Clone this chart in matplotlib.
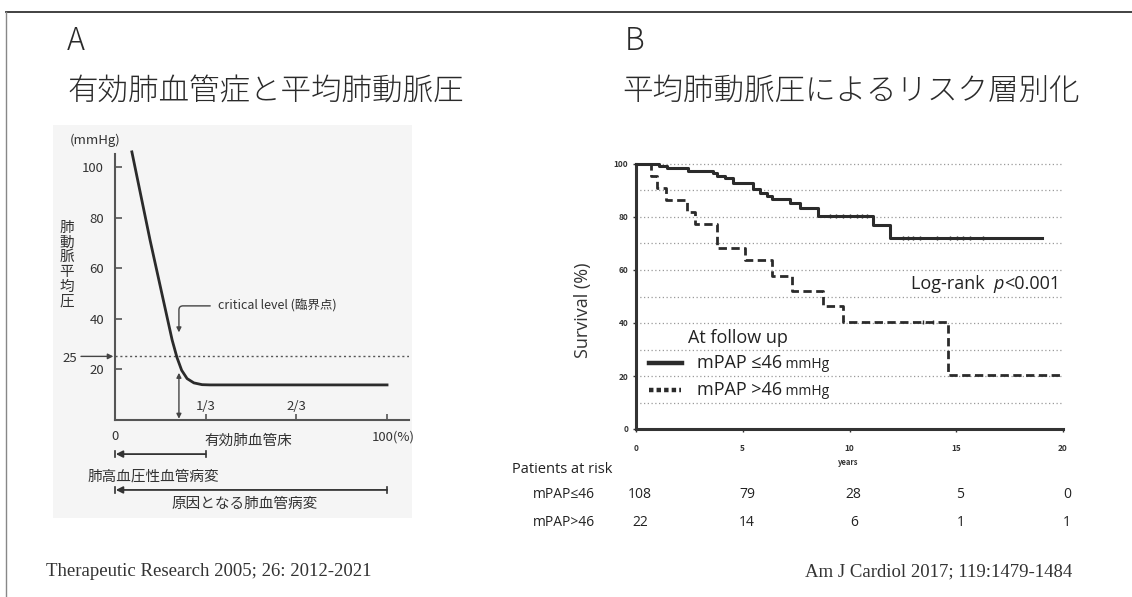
import matplotlib
matplotlib.use('Agg')
import matplotlib.pyplot as plt
from matplotlib.patches import Rectangle
from matplotlib.lines import Line2D

plt.rcParams['font.family'] = ['Noto Sans CJK JP', 'DejaVu Sans']

W, H = 1132, 597
INK = '#2b2b2b'

# ---- panel A: effective pulmonary vascular bed vs mean PAP ----
bed_pct = [6.2, 12.9, 21.0, 22.8, 24.5, 26.5, 29.0, 32.0, 35.0, 100]
mpap_mmhg = [106, 71, 31.5, 24.5, 19.5, 16.2, 14.5, 13.8, 13.7, 13.7]
a_yticks = [20, 40, 60, 80, 100]
a_xticks = [100 / 3, 200 / 3, 100]
a_xlabels = ['1/3', '2/3']
threshold = 25

# ---- panel B: Kaplan-Meier by mPAP ----
t_le46 = [0, 1.09, 1.44, 2.45, 3.62, 3.78, 4.17, 4.56, 5.50, 5.81, 6.12, 6.35,
          7.21, 7.68, 8.54, 11.12, 11.90, 19.0]
s_le46 = [100, 99.4, 98.4, 97.4, 96.5, 95.5, 94.6, 92.7, 90.4, 89.2, 87.9, 86.7,
          85.2, 83.3, 80.4, 76.9, 72.0, 72.0]
t_gt46 = [0, 0.69, 0.97, 1.40, 2.37, 2.76, 3.78, 5.11, 6.35, 7.29, 8.77, 9.71, 14.63, 19.94]
s_gt46 = [100, 95.5, 91.1, 86.4, 81.8, 77.3, 68.2, 63.6, 57.6, 52.0, 46.5, 40.5, 20.3, 20.3]
cens_le46_t = [9.08, 9.39, 9.71, 10.02, 10.33, 10.57, 10.80,
               12.52, 12.76, 12.99, 13.30, 14.08, 14.71, 15.02, 15.33, 15.65, 16.27]
cens_le46_s = [80.4] * 7 + [72.0] * 10
cens_gt46_t = [13.46, 13.93]
cens_gt46_s = [40.5, 40.5]

b_yticks = [0, 20, 40, 60, 80, 100]
b_xticks = [0, 5, 10, 15, 20]
risk_years = [0, 5, 10, 15, 20]
risk_le46 = [108, 79, 28, 5, 0]
risk_gt46 = [22, 14, 6, 1, 1]


def fx(px):
    return px / W


def fy(py):
    return 1 - py / H


fig = plt.figure(figsize=(W / 100, H / 100), dpi=100)

# outer frame (top and left edges only)
fig.add_artist(Line2D([fx(6), 1], [fy(12), fy(12)], color='#333333', lw=1.3))
fig.add_artist(Line2D([fx(6), fx(6)], [fy(12), 0], color='#888888', lw=1.0))

# headings
head = dict(fontsize=22, va='center', color='#2a2a2a', fontweight='light')
fig.text(fx(67), fy(41), 'A', **head)
fig.text(fx(67), fy(91), '有効肺血管症と平均肺動脈圧', **head)
fig.text(fx(625), fy(41), 'B', **head)
fig.text(fx(622), fy(91), '平均肺動脈圧によるリスク層別化', **head)

# footers
fig.text(fx(46), fy(572), 'Therapeutic Research 2005; 26: 2012-2021', fontsize=13.5,
         family='Liberation Serif', va='center', color='#333333')
fig.text(fx(1072), fy(572), 'Am J Cardiol 2017; 119:1479-1484', fontsize=13.5,
         family='Liberation Serif', va='center', ha='right', color='#333333')

# panel A background
fig.add_artist(Rectangle((fx(53), fy(518)), fx(412) - fx(53), fy(125) - fy(518),
                         facecolor='#f5f5f5', edgecolor='none', zorder=0))

# ---------------- panel A ----------------
ax_a = fig.add_axes([fx(115), fy(419.5), fx(408.8) - fx(115), fy(154.4) - fy(419.5)])
ax_a.set_xlim(0, 108)
ax_a.set_ylim(0, 105)
ax_a.patch.set_visible(False)
for side in ['top', 'right']:
    ax_a.spines[side].set_visible(False)
for side in ['left', 'bottom']:
    ax_a.spines[side].set_color('#555555')
    ax_a.spines[side].set_linewidth(1.5)

ax_a.set_yticks(a_yticks)
ax_a.tick_params(axis='y', direction='in', length=5, width=1.2, color='#555555',
                 labelsize=9.5, pad=8, labelcolor='#333333')
ax_a.set_xticks(a_xticks)
ax_a.set_xticklabels([])
ax_a.tick_params(axis='x', direction='in', length=4, width=1.2, color='#555555')

ax_a.plot(bed_pct, mpap_mmhg, color=INK, lw=2, clip_on=False, zorder=3)
ax_a.plot([0, 108], [threshold, threshold], color='#555555', lw=1, ls=(0, (1.5, 2)))

for xv, lab in zip(a_xticks[:2], a_xlabels):
    ax_a.text(xv, 5.3, lab, ha='center', va='center', fontsize=9.5, color='#333333')
ax_a.text(0, -6.9, '0', ha='center', va='center', fontsize=9.5, color='#333333')
ax_a.text(94.5, -6.9, '100(%)', ha='left', va='center', fontsize=9.5, color='#333333')
ax_a.text(33, -8.3, '有効肺血管床', ha='left', va='center', fontsize=10.5, color='#333333')

# threshold label arrow
ax_a.text(-13.8, 24.0, '25', ha='right', va='center', fontsize=9.5, color='#333333')
ax_a.annotate('', xy=(-0.6, threshold), xytext=(-12.5, threshold), annotation_clip=False,
              arrowprops=dict(arrowstyle='-|>', lw=1, color='#444444', mutation_scale=8,
                              shrinkA=0, shrinkB=0))

# critical level
ax_a.text(38.0, 45, 'critical level (臨界点)', ha='left', va='center', fontsize=9,
          color='#333333')
ax_a.annotate('', xy=(23.5, 34.5), xytext=(35.0, 45), annotation_clip=False,
              arrowprops=dict(arrowstyle='-|>', lw=1, color='#444444', mutation_scale=7,
                              shrinkA=0, shrinkB=0,
                              connectionstyle='angle,angleA=180,angleB=90,rad=4'))
# vertical double arrow under the curve
ax_a.annotate('', xy=(23.5, 0.3), xytext=(23.5, 18.5), annotation_clip=False,
              arrowprops=dict(arrowstyle='<|-|>', lw=1, color='#444444', mutation_scale=7,
                              shrinkA=0, shrinkB=0))

# lesion range arrows
for x_end, yv in [(100 / 3, -13.7), (100, -27.9)]:
    ax_a.annotate('', xy=(0.3, yv), xytext=(x_end, yv), annotation_clip=False,
                  arrowprops=dict(arrowstyle='-|>', lw=1.3, color='#333333',
                                  mutation_scale=10, shrinkA=0, shrinkB=0))
    for xv in (0, x_end):
        ax_a.plot([xv, xv], [yv - 1.2, yv + 1.2], color='#333333', lw=1.2, clip_on=False)
ax_a.text(-10, -22.6, '肺高血圧性血管病変', ha='left', va='center', fontsize=10.5, color='#333333')
ax_a.text(47.8, -33.5, '原因となる肺血管病変', ha='center', va='center', fontsize=10.5,
          color='#333333')

fig.text(fx(95), fy(140), '(mmHg)', ha='center', va='center', fontsize=9.5, color='#333333')
for i, ch in enumerate('肺動脈平均圧'):
    fig.text(fx(67), fy(228 + i * 14.7), ch, ha='center', va='center', fontsize=10.5,
             color='#333333')

# ---------------- panel B ----------------
ax_b = fig.add_axes([fx(636), fy(429), fx(1063) - fx(636), fy(164) - fy(429)])
ax_b.set_xlim(0, 20)
ax_b.set_ylim(0, 100)
for side in ['top', 'right']:
    ax_b.spines[side].set_visible(False)
for side in ['left', 'bottom']:
    ax_b.spines[side].set_color('#333333')
    ax_b.spines[side].set_linewidth(2.2)
ax_b.set_yticks(b_yticks)
ax_b.set_xticks(b_xticks)
ax_b.tick_params(length=2.5, width=1, color='#333333', labelsize=6, pad=3, labelcolor='#333333')
ax_b.tick_params(axis='x', pad=8)
for lab in ax_b.get_xticklabels() + ax_b.get_yticklabels():
    lab.set_fontweight('bold')
for g in range(10, 101, 10):
    ax_b.axhline(g, color='#9a9a9a', lw=0.9, ls=(0, (1, 2)), zorder=0, clip_on=False)

ax_b.step(t_le46, s_le46, where='post', color=INK, lw=2.2, clip_on=False, zorder=3)
ax_b.step(t_gt46, s_gt46, where='post', color=INK, lw=2.0, ls=(0, (3, 1.6)),
          clip_on=False, zorder=3)
ax_b.plot(cens_le46_t, cens_le46_s, ls='none', marker='|', ms=3.5, mew=1, color=INK)
ax_b.plot(cens_gt46_t, cens_gt46_s, ls='none', marker='|', ms=3.5, mew=1, color=INK)

bfont = ['Open Sans', 'DejaVu Sans']
ax_b.text(9.95, -12.8, 'years', ha='center', va='center', fontsize=5.5, fontweight='bold',
          color='#333333')
fig.text(fx(583), fy(310), 'Survival (%)', rotation=90, ha='center', va='center',
         fontsize=13, family=bfont, color='#333333')

# p-value
t_pv = ax_b.text(19.86, 54.7, '<0.001', ha='right', va='center', fontsize=13, family=bfont,
                 color='#222222')
t_p = ax_b.annotate('p', xy=(0, 0), xycoords=t_pv, ha='right', va='bottom', fontsize=13,
                    family=bfont, style='italic', color='#222222')
ax_b.annotate('Log-rank  ', xy=(0, 0), xycoords=t_p, ha='right', va='bottom', fontsize=13,
              family=bfont, color='#222222')

# legend
ax_b.text(2.44, 34.3, 'At follow up', ha='left', va='center', fontsize=13, family=bfont,
          color='#222222')
ax_b.plot([0.61, 2.15], [24.9, 24.9], color=INK, lw=3.2, clip_on=False)
ax_b.plot([0.61, 2.1], [14.7, 14.7], color=INK, lw=3.2, ls=(0, (1, 0.7)), clip_on=False)
for yv, lab in [(24.9, 'mPAP ≤46'), (14.7, 'mPAP >46')]:
    t_m = ax_b.text(2.86, yv, lab, ha='left', va='center', fontsize=13, family=bfont,
                    color='#222222')
    ax_b.annotate(' mmHg', xy=(1, 0), xycoords=t_m, ha='left', va='bottom', fontsize=10,
                  family=bfont, color='#222222')

# numbers at risk
ax_b.text(-1.12, -15.1, 'Patients at risk', ha='right', va='center', fontsize=10.5,
          family=bfont, color='#222222', clip_on=False)
for yv, lab, row in [(-24.9, 'mPAP≤46', risk_le46), (-35.1, 'mPAP>46', risk_gt46)]:
    ax_b.text(-1.92, yv, lab, ha='right', va='center', fontsize=10, family=bfont,
              color='#222222')
    for yr, n in zip(risk_years, row):
        ax_b.text(yr + 0.2, yv, str(n), ha='center', va='center', fontsize=10,
                  family=bfont, color='#222222')

fig.savefig('out.png', dpi=100)
